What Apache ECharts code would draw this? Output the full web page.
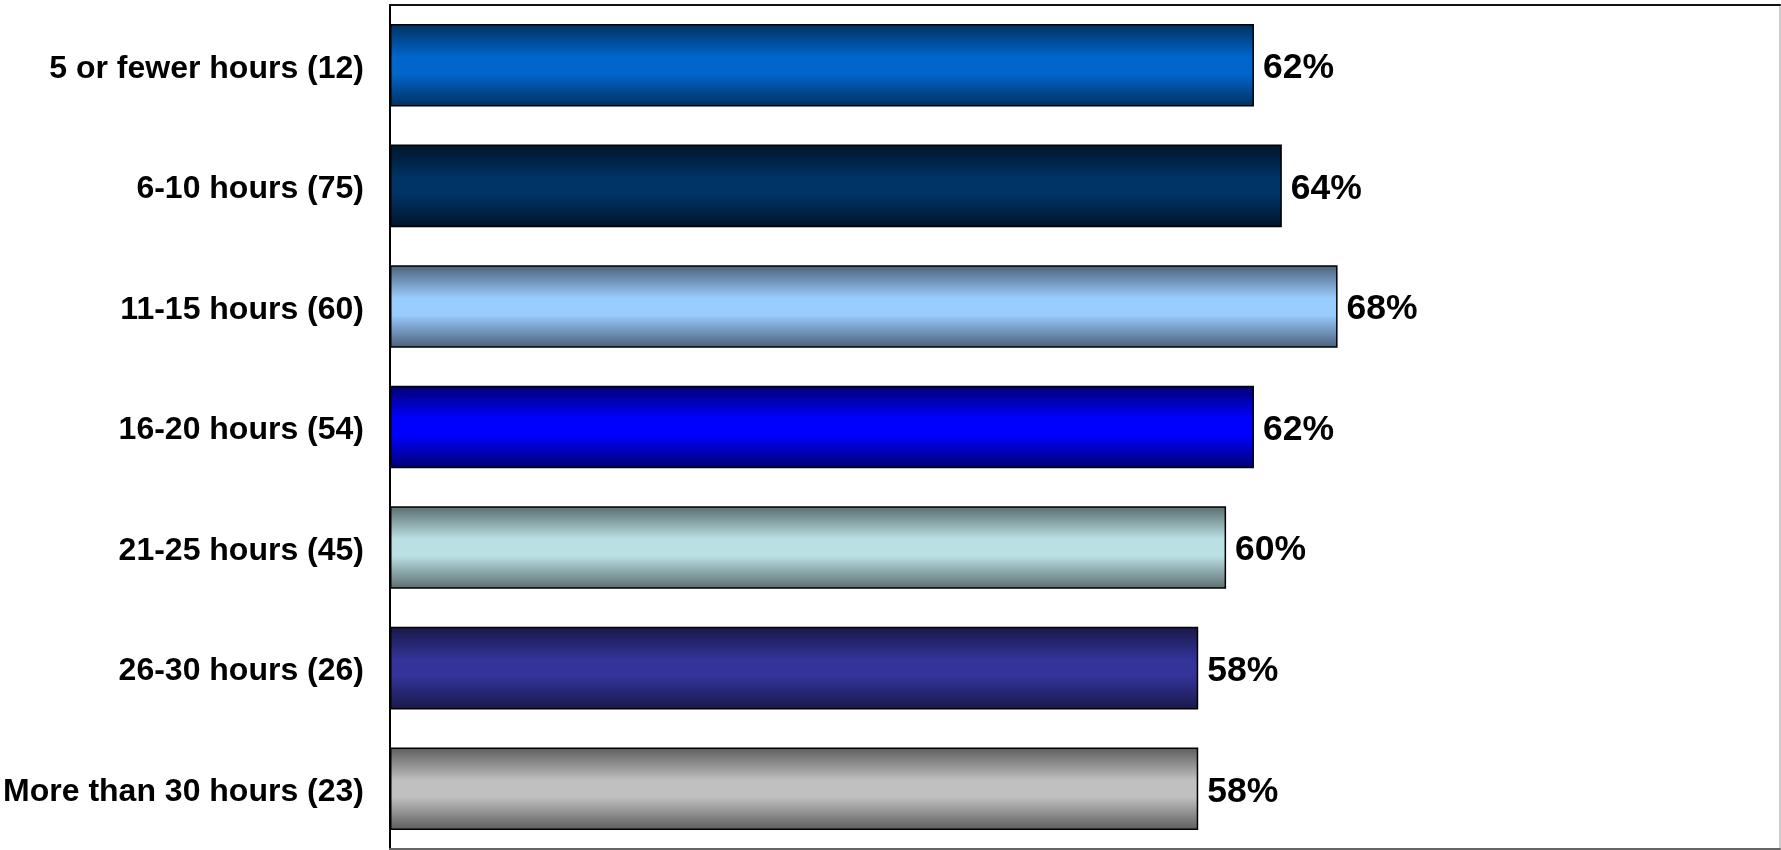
<!DOCTYPE html>
<html>
<head>
<meta charset="utf-8">
<script src="https://cdn.jsdelivr.net/npm/echarts@6/dist/echarts.min.js"></script>
<style>
html,body{margin:0;padding:0;background:#fff;}
#chart{width:1781px;height:850px;}
</style>
</head>
<body>
<div id="chart"></div>
<script>
const categories = [
  "5 or fewer hours (12)",
  "6-10 hours (75)",
  "11-15 hours (60)",
  "16-20 hours (54)",
  "21-25 hours (45)",
  "26-30 hours (26)",
  "More than 30 hours (23)"
];
const values = [62, 64, 68, 62, 60, 58, 58];
const centerColors = ["#0066CC", "#003366", "#99CCFF", "#0000FF", "#BBE0E3", "#333399", "#C0C0C0"];
const edgeColors   = ["#00305F", "#001428", "#4A6078", "#000070", "#5A6C6E", "#191948", "#5C5C5C"];

const chart = echarts.init(document.getElementById('chart'));
const data = values.map((v, i) => ({
  value: v,
  itemStyle: {
    color: new echarts.graphic.LinearGradient(0, 0, 0, 1, [
      {offset: 0, color: edgeColors[i]},
      {offset: 0.4, color: centerColors[i]},
      {offset: 0.6, color: centerColors[i]},
      {offset: 1, color: edgeColors[i]}
    ])
  }
}));

chart.setOption({
  animation: false,
  backgroundColor: '#ffffff',
  grid: {left: 390, right: 1, top: 5, bottom: 1, containLabel: false},
  xAxis: [
    {
      type: 'value', min: 0, max: 99.75, position: 'top',
      axisLine: {show: true, lineStyle: {color: '#111', width: 2}},
      axisTick: {show: false}, axisLabel: {show: false}, splitLine: {show: false}
    },
    {
      type: 'value', min: 0, max: 99.75, position: 'bottom',
      axisLine: {show: true, onZero: false, lineStyle: {color: '#666', width: 2}},
      axisTick: {show: false}, axisLabel: {show: false}, splitLine: {show: false}
    }
  ],
  yAxis: [
    {
      type: 'category', data: categories, inverse: true,
      axisLine: {show: true, onZero: false, lineStyle: {color: '#000', width: 2}},
      axisTick: {show: false},
      axisLabel: {
        margin: 26,
        formatter: '{a|{value}}',
        rich: {
          a: {
            color: '#000', fontSize: 32, fontWeight: 'bold',
            fontFamily: '"Liberation Sans", Arial, sans-serif',
            padding: [7, 0, 0, 0]
          }
        }
      }
    },
    {
      type: 'category', data: categories, inverse: true, position: 'right',
      axisLine: {show: true, onZero: false, lineStyle: {color: '#cccccc', width: 2}},
      axisTick: {show: false}, axisLabel: {show: false}
    }
  ],
  series: [{
    type: 'bar',
    xAxisIndex: 0, yAxisIndex: 0,
    data: data,
    barCategoryGap: '31.5%',
    itemStyle: {borderColor: '#000', borderWidth: 1.5},
    label: {
      show: true, position: 'right', distance: 9, offset: [0, 3],
      formatter: '{c}%', color: '#000', fontSize: 35.5, fontWeight: 'bold',
      fontFamily: '"Liberation Sans", Arial, sans-serif'
    }
  }]
});
</script>
</body>
</html>
